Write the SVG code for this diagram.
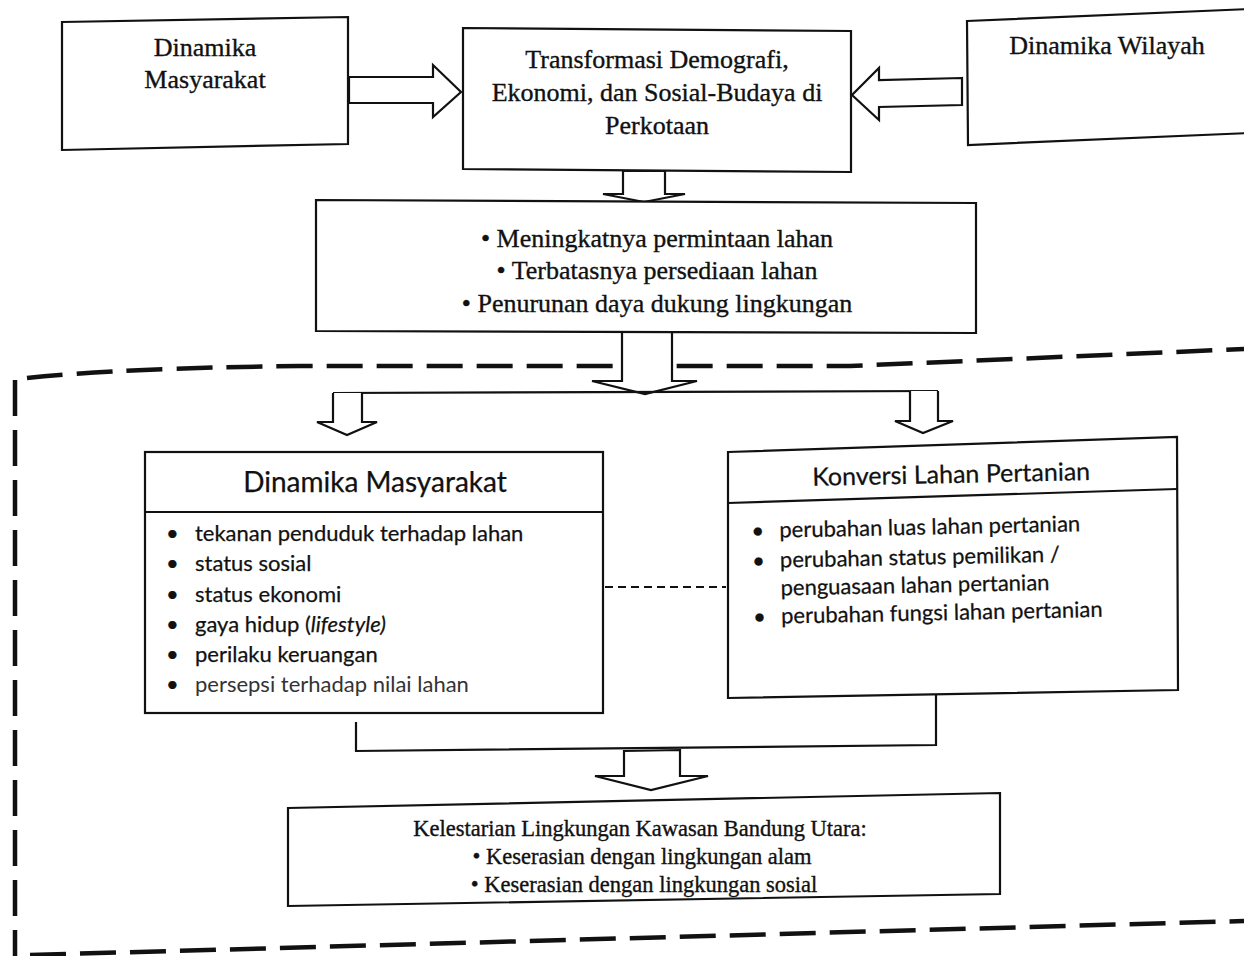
<svg xmlns="http://www.w3.org/2000/svg" width="1244" height="956" viewBox="0 0 1244 956">
<style>
.box{fill:#fff;stroke:#111;stroke-width:2.2;stroke-linejoin:miter}
.arr{fill:#fff;stroke:#111;stroke-width:2.2;stroke-linejoin:miter}
.ln{fill:none;stroke:#111;stroke-width:2.2}
.dl{fill:none;stroke:#111;stroke-width:2;stroke-dasharray:8 5}
.bnd{fill:none;stroke:#111;stroke-width:4.5;stroke-dasharray:36 14}
.serif{font-family:"Liberation Serif","Times New Roman",serif;fill:#111;stroke:#111;stroke-width:0.35}
.sans{font-family:Lato,"Open Sans","Noto Sans",sans-serif;fill:#111;stroke:#111;stroke-width:0.25}
.t26{font-size:26px}
.t22{font-size:22px}
</style>
<rect width="1244" height="956" fill="#fff"/>

<g id="boundary">
<path class="bnd" d="M27,378 Q120,368 300,366 L850,366 L1244,349"/>
<path class="bnd" d="M15,380 L15,956"/>
<path class="bnd" d="M30,955 L1244,921"/>
</g>

<g id="connectors">
<polygon class="arr" points="349,77 433,77 433,65 461,92 433,117 433,103 349,103"/>
<polygon class="arr" points="962,78 879,80 879,68 852,95 879,120 879,107 962,105"/>
<polygon class="arr" points="623,171 623,194 603,194 644,202 685,194 665,194 665,171"/>
<polygon class="arr" points="622,332 622,381 592,381 645,394 697,381 672,381 672,332"/>
<path class="ln" d="M333,393 L938,391"/>
<path class="arr" d="M333,393 L333,422 L317,422 L347,435 L377,422 L362,422 L362,393"/>
<path class="arr" d="M910,391 L910,421 L895,421 L923,433 L953,421 L938,421 L938,391"/>
<path class="dl" d="M605,587 L726,587"/>
<path class="ln" d="M356,722 L356,751 L936,745 L936,694"/>
<polygon class="arr" points="624,751 624,776 595,776 651,790 708,776 680,776 680,750"/>
</g>

<g id="node-dinamika-masyarakat-top">
<polygon class="box" points="62,22 348,17 348,144 62,150"/>
<text class="serif t26" x="205" y="56" text-anchor="middle">Dinamika</text>
<text class="serif t26" x="205" y="88" text-anchor="middle">Masyarakat</text>
</g>

<g id="node-transformasi">
<polygon class="box" points="463,28 851,31 851,172 463,169"/>
<text class="serif t26" x="657" y="68" text-anchor="middle">Transformasi Demografi,</text>
<text class="serif t26" x="657" y="101" text-anchor="middle">Ekonomi, dan Sosial-Budaya di</text>
<text class="serif t26" x="657" y="134" text-anchor="middle">Perkotaan</text>
</g>

<g id="node-dinamika-wilayah">
<polygon class="box" points="967,21 1250,9 1250,133 968,145"/>
<text class="serif t26" x="1107" y="54" text-anchor="middle">Dinamika Wilayah</text>
</g>

<g id="node-lahan">
<polygon class="box" points="316,200 976,203 976,333 316,331"/>
<text class="serif t26" x="657" y="247" text-anchor="middle">•  Meningkatnya permintaan lahan</text>
<text class="serif t26" x="657" y="279" text-anchor="middle">•  Terbatasnya persediaan lahan</text>
<text class="serif t26" x="657" y="312" text-anchor="middle">•  Penurunan daya dukung lingkungan</text>
</g>

<g id="node-dinamika-masyarakat">
<rect class="box" x="145" y="452" width="458" height="261"/>
<line class="ln" x1="145" y1="512" x2="603" y2="512"/>
<text class="sans" font-size="28" x="375" y="492" text-anchor="middle">Dinamika Masyarakat</text>
<g class="sans t22">
<text x="166" y="541">•</text><text x="195" y="541">tekanan penduduk terhadap lahan</text>
<text x="166" y="571">•</text><text x="195" y="571">status sosial</text>
<text x="166" y="602">•</text><text x="195" y="602">status ekonomi</text>
<text x="166" y="632">•</text><text x="195" y="632">gaya hidup (<tspan font-style="italic">lifestyle)</tspan></text>
<text x="166" y="662">•</text><text x="195" y="662">perilaku keruangan</text>
<text x="166" y="692">•</text><text x="195" y="692" fill="#333" stroke="none">persepsi terhadap nilai lahan</text>
</g>
</g>

<g id="node-konversi">
<polygon class="box" points="728,452 1177,437 1178,690 728,698"/>
<line class="ln" x1="728" y1="503" x2="1177" y2="489"/>
<g transform="rotate(-1.2 950 560)">
<text class="sans" font-size="25" x="953" y="483" text-anchor="middle">Konversi Lahan Pertanian</text>
<g class="sans t22">
<text x="752" y="534">•</text><text x="780" y="534">perubahan luas lahan pertanian</text>
<text x="752" y="564">•</text><text x="780" y="564">perubahan status pemilikan /</text>
<text x="780" y="592">penguasaan lahan pertanian</text>
<text x="752" y="620">•</text><text x="780" y="620">perubahan fungsi lahan pertanian</text>
</g>
</g>
</g>

<g id="node-kelestarian">
<polygon class="box" points="288,808 1000,793 1000,894 288,906"/>
<text class="serif" font-size="22.5" x="640" y="836" text-anchor="middle">Kelestarian Lingkungan Kawasan Bandung Utara:</text>
<text class="serif" font-size="22.5" x="642" y="864" text-anchor="middle">•  Keserasian dengan lingkungan alam</text>
<text class="serif" font-size="22.5" x="644" y="892" text-anchor="middle">•  Keserasian dengan lingkungan sosial</text>
</g>
</svg>
